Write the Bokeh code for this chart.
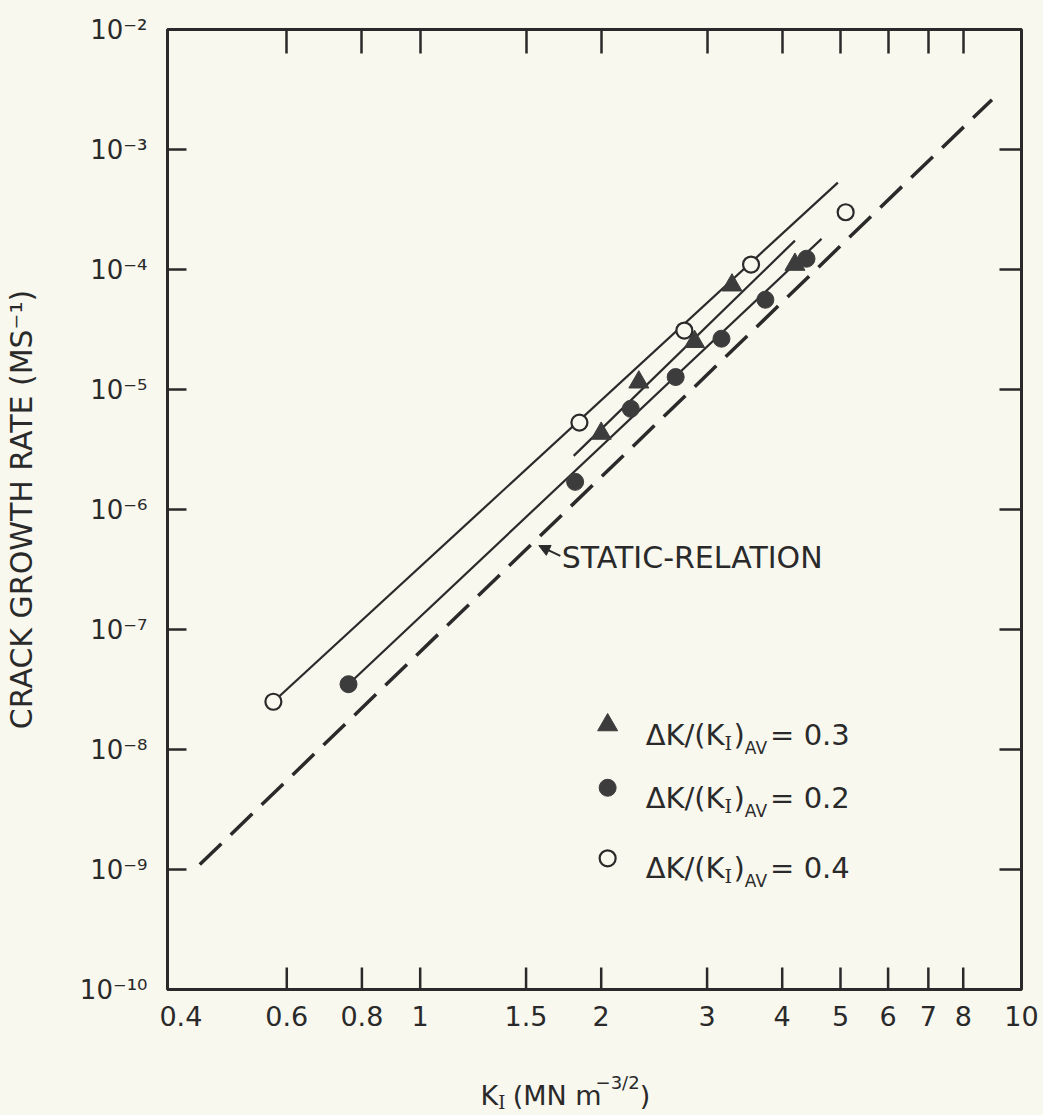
import numpy as np
from bokeh.plotting import figure
from bokeh.layouts import column
from bokeh.models import Range1d, LogAxis, FixedTicker, Label, Arrow, NormalHead
from bokeh.core.properties import value
from bokeh.embed import file_html
from bokeh.resources import INLINE

# ---------------- axis ticks ----------------
x_tick_values = [0.4, 0.6, 0.8, 1, 1.5, 2, 3, 4, 5, 6, 7, 8, 10]
x_tick_labels = ["0.4", "0.6", "0.8", "1", "1.5", "2", "3", "4", "5", "6", "7", "8", "10"]
y_tick_exponents = [-10, -9, -8, -7, -6, -5, -4, -3, -2]

# ---------------- data ----------------
ratio03_k = [2.00, 2.31, 2.86, 3.30, 4.20]
ratio03_rate = [4.3e-6, 1.15e-5, 2.5e-5, 7.4e-5, 1.1e-4]

ratio02_k = [0.76, 1.81, 2.24, 2.66, 3.17, 3.75, 4.39]
ratio02_rate = [3.5e-8, 1.7e-6, 6.9e-6, 1.27e-5, 2.65e-5, 5.6e-5, 1.23e-4]

ratio04_k = [0.57, 1.84, 2.75, 3.55, 5.10]
ratio04_rate = [2.5e-8, 5.3e-6, 3.1e-5, 1.1e-4, 3.0e-4]

# fitted lines (end points)
fit04_k = [0.57, 4.95]
fit04_rate = [2.5e-8, 5.3e-4]
fit03_k = [1.80, 4.20]
fit03_rate = [2.8e-6, 1.74e-4]
fit02_k = [0.76, 4.65]
fit02_rate = [3.5e-8, 1.8e-4]
static_k = [0.43, 8.93]
static_rate = [1.1e-9, 2.6e-3]

# ---------------- style ----------------
BG = "#f8f8ef"
INK = "#2a2a2a"
MARK = "#3c3c3c"
FONT = "DejaVu Sans"
SERIF = "DejaVu Serif"
X0, X1 = 0.38, 10
Y0, Y1 = 1e-10, 1e-2
PX_PER_DEC_Y = 120.0
TICK = 22
MAIN_H = 1055
TITLE_H = 1115 - MAIN_H
FRAME_L, FRAME_R = 167, 1021

SUP = str.maketrans("-0123456789", "\u207b\u2070\u00b9\u00b2\u00b3\u2074\u2075\u2076\u2077\u2078\u2079")
y_tick_values = [10.0 ** e for e in y_tick_exponents]
y_tick_labels = ["10" + str(e).translate(SUP) for e in y_tick_exponents]

p = figure(width=1043, height=MAIN_H, x_axis_type="log", y_axis_type="log",
           x_range=Range1d(X0, X1), y_range=Range1d(Y0, Y1), title=None,
           output_backend="svg", toolbar_location=None,
           min_border_left=FRAME_L, min_border_right=1043 - FRAME_R, min_border_top=29,
           min_border_bottom=MAIN_H - 989,
           background_fill_color=BG, border_fill_color=BG,
           outline_line_color=INK, outline_line_width=3)
p.grid.visible = False

def style_axis(ax):
    ax.axis_line_color = None
    ax.minor_tick_in = 0
    ax.minor_tick_out = 0
    ax.major_tick_out = 0
    ax.major_tick_line_color = INK
    ax.major_tick_line_width = 2.5
    ax.major_label_text_font = FONT
    ax.major_label_text_color = INK

# bottom axis: labels only (inner ticks drawn as segments)
xa = p.xaxis[0]
style_axis(xa)
xa.ticker = FixedTicker(ticks=x_tick_values)
xa.major_label_overrides = dict(zip(x_tick_values, x_tick_labels))
xa.major_tick_in = 0
xa.major_label_standoff = 16
xa.major_label_text_font_size = "27px"

inner_x = x_tick_values[1:-1]
p.segment(x0=inner_x, y0=[Y0] * len(inner_x), x1=inner_x,
          y1=[Y0 * 10 ** (TICK / PX_PER_DEC_Y)] * len(inner_x),
          line_color=INK, line_width=2.5)

top = LogAxis(ticker=FixedTicker(ticks=inner_x))
style_axis(top)
top.major_tick_in = TICK + 2
top.major_label_overrides = {v: "" for v in inner_x}
top.major_label_text_font_size = "0px"
p.add_layout(top, "above")

ya = p.yaxis[0]
style_axis(ya)
ya.ticker = FixedTicker(ticks=y_tick_values)
ya.major_label_overrides = dict(zip(y_tick_values, y_tick_labels))
ya.major_tick_in = 19
ya.major_label_standoff = 20
ya.major_label_text_font_size = "26px"
ya.axis_label = "CRACK GROWTH RATE (MS\u207b\u00b9)"
ya.axis_label_text_font = FONT
ya.axis_label_text_font_style = "normal"
ya.axis_label_text_font_size = "30px"
ya.axis_label_text_color = INK
ya.axis_label_standoff = 38

right = LogAxis(ticker=FixedTicker(ticks=y_tick_values))
style_axis(right)
right.major_tick_in = TICK
right.major_label_overrides = {v: "" for v in y_tick_values}
right.major_label_text_font_size = "0px"
p.add_layout(right, "right")

# ---------------- lines ----------------
p.line(static_k, static_rate, line_color=INK, line_width=3.5, line_dash="30 13")
p.line(fit04_k, fit04_rate, line_color=INK, line_width=2.2)
p.line(fit03_k, fit03_rate, line_color=INK, line_width=2.2)
p.line(fit02_k, fit02_rate, line_color=INK, line_width=2.2)

# ---------------- markers ----------------
p.scatter(ratio03_k, ratio03_rate, marker="triangle", size=20,
          fill_color=MARK, line_color=MARK)
p.scatter(ratio02_k, ratio02_rate, marker="circle", size=17,
          fill_color=MARK, line_color=MARK)
p.scatter(ratio04_k, ratio04_rate, marker="circle", size=16,
          fill_color=BG, line_color=INK, line_width=2.2)

# ---------------- annotation: static relation ----------------
p.add_layout(Label(x=1.72, y=4.0e-7, text="STATIC-RELATION", text_font=FONT,
                   text_font_size="30px", text_color=INK, text_baseline="middle"))
p.add_layout(Arrow(x_start=1.71, y_start=4.1e-7, x_end=1.575, y_end=5.0e-7,
                   line_color=INK, line_width=2,
                   end=NormalHead(size=11, fill_color=INK, line_color=INK)))

# ---------------- text helper (mixed sub/superscripts) ----------------
WID = {'K': 0.656, 'I': 0.47, '(': 0.39, ')': 0.39, 'M': 0.863, 'N': 0.748, ' ': 0.318,
       'm': 0.974, '\u2212': 0.838, '3': 0.636, '/': 0.337, '2': 0.636, '\u0394': 0.684,
       'A': 0.684, 'V': 0.684, '=': 0.838, '0': 0.636, '.': 0.318, '4': 0.636}

def text_width(t, size):
    return sum(WID.get(c, 0.62) for c in t) * size

def add_pieces(x, y, pieces, x_px, y_px):
    off = x_px
    for t, size, dy, font, gap in pieces:
        p.add_layout(Label(x=x, y=y, x_offset=off, y_offset=y_px + dy, text=t,
                           text_font=font, text_font_size=f"{size}px", text_color=INK,
                           text_baseline="alphabetic", text_align="left"))
        off += text_width(t, size) + gap

# legend
legend_x = 2.05
legend_rows = [1.6e-8, 4.8e-9, 1.24e-9]
legend_values = ["0.3", "0.2", "0.4"]
p.scatter([legend_x], [legend_rows[0]], marker="triangle", size=20, fill_color=MARK, line_color=MARK)
p.scatter([legend_x], [legend_rows[1]], marker="circle", size=17, fill_color=MARK, line_color=MARK)
p.scatter([legend_x], [legend_rows[2]], marker="circle", size=16, fill_color=BG, line_color=INK, line_width=2.2)
for yr, v in zip(legend_rows, legend_values):
    pieces = [("\u0394K/(K", 29, 0, FONT, 0), ("I", 19, -8, SERIF, 0), (")", 29, 0, FONT, 0),
              ("AV", 17, -13, FONT, 2), (" = " + v, 29, 0, FONT, 0)]
    add_pieces(legend_x, yr, pieces, 38, -10)

# ---------------- x axis title in a strip below (frame aligned with main plot) ----------------
p2 = figure(width=1043, height=TITLE_H, x_range=Range1d(FRAME_L, FRAME_R),
            y_range=Range1d(0, TITLE_H),
            output_backend="svg", toolbar_location=None, title=None,
            x_axis_location=None, y_axis_location=None, min_border=0,
            min_border_left=FRAME_L, min_border_right=1043 - FRAME_R,
            background_fill_color=BG, border_fill_color=BG, outline_line_color=None)
p2.grid.visible = False
xtitle = [("K", 27, 0, FONT, 0), ("I", 18, -7, SERIF, 6), ("(MN m", 27, 0, FONT, -6),
          ("\u22123/2", 18, 13, FONT, 0), (")", 27, 0, FONT, 0)]
cx = 480.0
base_y = TITLE_H - (1095 - MAIN_H)
for t, size, dy, font, gap in xtitle:
    p2.text(x=[cx], y=[base_y + dy], text=[t], text_font=value(font),
            text_font_size=value(f"{size}px"), text_color=INK,
            text_baseline="alphabetic", text_align="left")
    cx += text_width(t, size) + gap

layout = column(p, p2, spacing=0)
layout.styles = {"background-color": BG}
open("out.html", "w").write(file_html(layout, INLINE))
